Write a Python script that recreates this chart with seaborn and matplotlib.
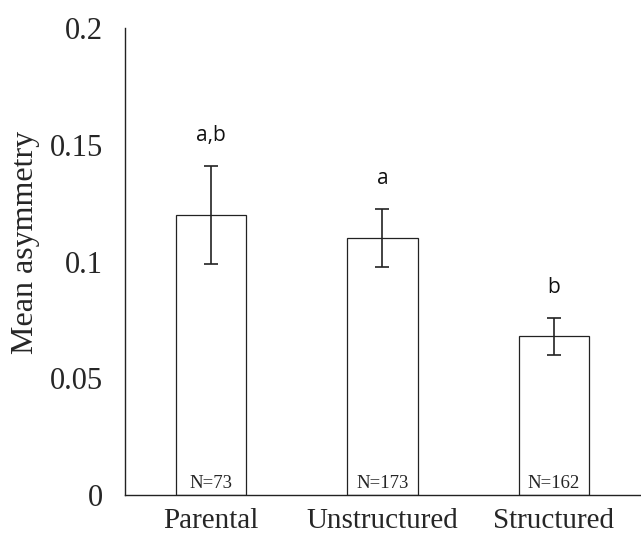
import matplotlib
matplotlib.use("Agg")
import matplotlib.pyplot as plt
import seaborn as sns
import pandas as pd

# Data
groups = ["Parental", "Unstructured", "Structured"]
mean_asym = [0.120, 0.110, 0.068]
err = [0.021, 0.0125, 0.008]
letters = ["a,b", "a", "b"]
n_labels = ["N=73", "N=173", "N=162"]

df = pd.DataFrame({"group": groups, "mean": mean_asym})

sns.set_style("white")
plt.rcParams["font.family"] = ["Liberation Serif", "DejaVu Serif"]

fig = plt.figure(figsize=(6.41, 5.39), dpi=100)
ax = fig.add_axes([0.195, 0.0816, 0.803, 0.866])

sns.barplot(data=df, x="group", y="mean", ax=ax, color="white",
            edgecolor="#222222", linewidth=0.9, width=0.41, errorbar=None)
ax.errorbar(range(len(groups)), mean_asym, yerr=err, fmt="none",
            ecolor="#222222", elinewidth=1.2, capsize=5, capthick=1.2)

for i, (m, e) in enumerate(zip(mean_asym, err)):
    ax.text(i, m + e + 0.013, letters[i], ha="center", va="center",
            fontsize=15, family=["Open Sans", "DejaVu Sans"], color="#111111")
    ax.text(i, 0.0015, n_labels[i], ha="center", va="bottom", fontsize=13.5)

ax.set_ylim(0, 0.2)
ax.set_xlim(-0.5, 2.5)
ax.set_yticks([0, 0.05, 0.1, 0.15, 0.2])
ax.set_yticklabels(["0", "0.05", "0.1", "0.15", "0.2"])
ax.tick_params(axis="y", length=0, pad=16, labelsize=22)
ax.tick_params(axis="x", length=0, pad=9, labelsize=21)
ax.set_xlabel("")
ax.set_ylabel("Mean asymmetry", fontsize=23, labelpad=14)
ax.yaxis.set_label_coords(-0.165, 0.542)

sns.despine(ax=ax)
for side in ["left", "bottom"]:
    ax.spines[side].set_color("#222222")
    ax.spines[side].set_linewidth(1.0)

fig.savefig("out.png", dpi=100)
